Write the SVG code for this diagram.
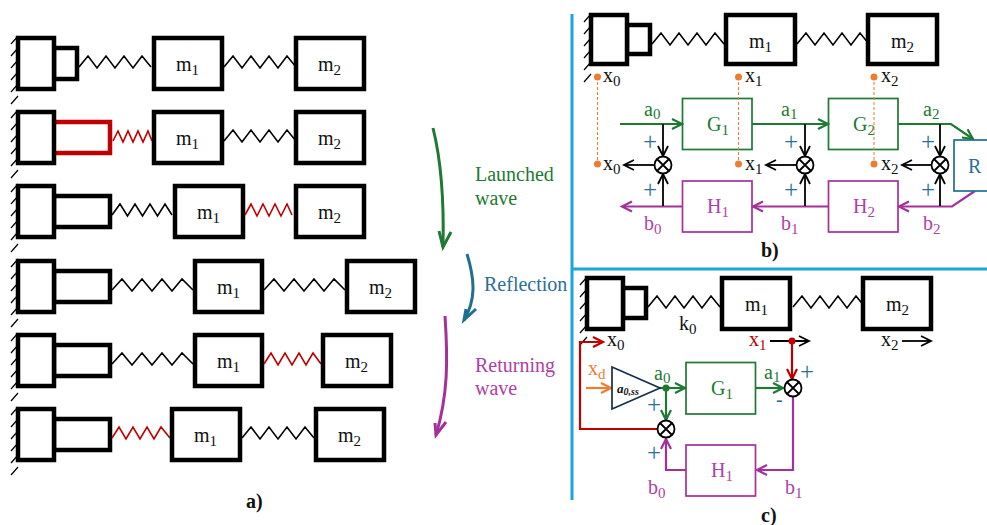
<svg xmlns="http://www.w3.org/2000/svg" width="987" height="525" viewBox="0 0 987 525">
<style>
text{font-family:"Liberation Serif","Times New Roman",serif;font-size:20px;fill:#111}
tspan.s{font-size:15px}
text.plus{font-size:25px}
text.bold{font-weight:bold;font-size:20px}
.b{fill:#fff;stroke:#000;stroke-width:4.5}
.sp{fill:none;stroke:#000;stroke-width:1.6;stroke-linejoin:miter}
.red{stroke:#c00000}
.h{fill:none;stroke:#000;stroke-width:1.2}
.g{fill:none;stroke:#1e7a32;stroke-width:2.2}
.p{fill:none;stroke:#a5309a;stroke-width:2.2}
.k{fill:none;stroke:#000;stroke-width:1.8}
.r{fill:none;stroke:#c00000;stroke-width:2.2}
.o{fill:none;stroke:#ed7d31;stroke-width:2.2}
.gt{fill:#1e7a32}.pt{fill:#b040a5}.bt{fill:#2a6f97}.ot{fill:#ed7d31}.rt{fill:#c00000}
.sum{fill:#fff;stroke:#000;stroke-width:1.8}
.dash{fill:none;stroke:#ed7d31;stroke-width:1;stroke-dasharray:3 2}
.ln{fill:none;stroke:#1aa5dc;stroke-width:3}
</style>
<defs>
<path id="hatch" class="h" d="M11 8l7-8M11 20l7-8M11 32l7-8M11 44l7-8M11 56l7-8M11 68l7-8"/>
<g id="cross"><circle class="sum" r="8.500"/><path class="k" d="M-6-6L6 6M-6 6L6-6"/></g>
<marker id="ak" markerUnits="userSpaceOnUse" markerWidth="14" markerHeight="14" refX="11" refY="6" orient="auto"><path d="M1 1L11 6L1 11" fill="none" stroke="#000" stroke-width="1.800"/></marker>
<marker id="ag" markerUnits="userSpaceOnUse" markerWidth="14" markerHeight="14" refX="11" refY="6" orient="auto"><path d="M1 1L11 6L1 11" fill="none" stroke="#1e7a32" stroke-width="2.200"/></marker>
<marker id="ap" markerUnits="userSpaceOnUse" markerWidth="14" markerHeight="14" refX="11" refY="6" orient="auto"><path d="M1 1L11 6L1 11" fill="none" stroke="#a5309a" stroke-width="2.200"/></marker>
<marker id="ar" markerUnits="userSpaceOnUse" markerWidth="14" markerHeight="14" refX="11" refY="6" orient="auto"><path d="M1 1L11 6L1 11" fill="none" stroke="#c00000" stroke-width="2.200"/></marker>
<marker id="ao" markerUnits="userSpaceOnUse" markerWidth="14" markerHeight="14" refX="11" refY="6" orient="auto"><path d="M1 1L11 6L1 11" fill="none" stroke="#ed7d31" stroke-width="2.200"/></marker>
</defs>

<g id="panel-lines"><path class="ln" d="M572 14V500M572 269H987"/></g>

<g id="a-row1">
<use href="#hatch" y="36"/><rect class="b" x="54" y="48" width="23" height="31"/><rect class="b" x="18" y="38" width="36" height="51"/>
<path class="sp" d="M79 67l9-11l9 12l9-12l9 12l9-12l9 12l9-12l9 11"/>
<rect class="b" x="154" y="38" width="68" height="51"/><text x="176" y="71">m<tspan class="s" dy="4">1</tspan></text>
<path class="sp" d="M224 67l9-11l9 12l9-12l9 12l9-12l9 12l9-12l9 11"/>
<rect class="b" x="296" y="38" width="68" height="51"/><text x="318" y="71">m<tspan class="s" dy="4">2</tspan></text>
</g>
<g id="a-row2">
<use href="#hatch" y="110"/><rect class="b" style="stroke:#c00000" x="50" y="122" width="60" height="31"/><rect class="b" x="18" y="112" width="36" height="51"/>
<path class="sp red" d="M113 141l5-10l5 11l5-11l5 11l5-11l5 11l5-11l4 10"/>
<rect class="b" x="154" y="112" width="68" height="51"/><text x="176" y="145">m<tspan class="s" dy="4">1</tspan></text>
<path class="sp" d="M224 141l9-11l9 12l9-12l9 12l9-12l9 12l9-12l9 11"/>
<rect class="b" x="296" y="112" width="68" height="51"/><text x="318" y="145">m<tspan class="s" dy="4">2</tspan></text>
</g>
<g id="a-row3">
<use href="#hatch" y="184"/><rect class="b" x="54" y="196" width="56" height="31"/><rect class="b" x="18" y="186" width="36" height="51"/>
<path class="sp" d="M112 215l8-11l7.500 12l7.500-12l7.500 12l7.500-12l7.500 12l7.500-12l7 11"/>
<rect class="b" x="175" y="186" width="68" height="51"/><text x="197" y="219">m<tspan class="s" dy="4">1</tspan></text>
<path class="sp red" d="M245 215l6-11l6 12l6-12l6 12l6-12l6 12l6-12l5 11"/>
<rect class="b" x="296" y="186" width="68" height="51"/><text x="318" y="219">m<tspan class="s" dy="4">2</tspan></text>
</g>
<g id="a-row4">
<use href="#hatch" y="259"/><rect class="b" x="54" y="271" width="56" height="31"/><rect class="b" x="18" y="261" width="36" height="51"/>
<path class="sp" d="M112 290l10-11l10 12l10-12l10 12l10-12l10 12l10-12l11 11"/>
<rect class="b" x="195" y="261" width="67" height="51"/><text x="217" y="294">m<tspan class="s" dy="4">1</tspan></text>
<path class="sp" d="M264 290l10-11l10 12l10-12l10 12l10-12l10 12l10-12l11 11"/>
<rect class="b" x="347" y="261" width="68" height="51"/><text x="369" y="294">m<tspan class="s" dy="4">2</tspan></text>
</g>
<g id="a-row5">
<use href="#hatch" y="333"/><rect class="b" x="54" y="345" width="56" height="31"/><rect class="b" x="18" y="335" width="36" height="51"/>
<path class="sp" d="M112 364l10-11l10 12l10-12l10 12l10-12l10 12l10-12l11 11"/>
<rect class="b" x="195" y="335" width="67" height="51"/><text x="217" y="368">m<tspan class="s" dy="4">1</tspan></text>
<path class="sp red" d="M264 364l7-11l7 12l7-12l7 12l7-12l7 12l7-12l8 11"/>
<rect class="b" x="323" y="335" width="68" height="51"/><text x="345" y="368">m<tspan class="s" dy="4">2</tspan></text>
</g>
<g id="a-row6">
<use href="#hatch" y="407"/><rect class="b" x="54" y="419" width="56" height="31"/><rect class="b" x="18" y="409" width="36" height="51"/>
<path class="sp red" d="M112 438l7-11l7 12l7-12l7 12l7-12l7 12l7-12l9 11"/>
<rect class="b" x="172" y="409" width="68" height="51"/><text x="194" y="442">m<tspan class="s" dy="4">1</tspan></text>
<path class="sp" d="M242 438l9-11l9 12l9-12l9 12l9-12l9 12l9-12l9 11"/>
<rect class="b" x="316" y="409" width="68" height="51"/><text x="338" y="442">m<tspan class="s" dy="4">2</tspan></text>
</g>
<text class="bold" x="246" y="508">a)</text>

<g id="wave-arrows">
<path d="M433 128C441 160 444 205 443 247" fill="none" stroke="#1e7a32" stroke-width="3"/><path d="M439 231L443 247L451 232" fill="none" stroke="#1e7a32" stroke-width="3"/>
<path d="M467 254C475 280 476 300 464 320" fill="none" stroke="#1f6f8f" stroke-width="3"/><path d="M466 309L464 320L476 309" fill="none" stroke="#1f6f8f" stroke-width="3"/>
<path d="M445 316C448 360 448 395 436 435" fill="none" stroke="#a5309a" stroke-width="3"/><path d="M435 423L436 435L446 422" fill="none" stroke="#a5309a" stroke-width="3"/>
<text class="gt" x="475" y="181">Launched</text><text class="gt" x="475" y="205">wave</text>
<text class="bt" x="484" y="291">Reflection</text>
<text class="pt" x="475" y="372">Returning</text><text class="pt" x="475" y="395">wave</text>
</g>

<g id="b-mech">
<use href="#hatch" x="573" y="14"/><rect class="b" x="627" y="25" width="23" height="29"/><rect class="b" x="591" y="15" width="36" height="49"/>
<path class="sp" d="M652 44l9-11l9 12l9-12l9 12l9-12l9 12l9-12l9 11"/>
<rect class="b" x="726" y="15" width="69" height="49"/><text x="749" y="48">m<tspan class="s" dy="4">1</tspan></text>
<path class="sp" d="M797 44l9-11l9 12l9-12l9 12l9-12l9 12l9-12l9 11"/>
<rect class="b" x="868" y="15" width="69" height="49"/><text x="891" y="48">m<tspan class="s" dy="4">2</tspan></text>
</g>
<g id="connectors-b">
<path class="g" marker-end="url(#ag)" d="M620 124H682"/>
<path class="g" marker-end="url(#ag)" d="M752 124H828"/>
<path class="g" marker-end="url(#ag)" d="M898 124H951L973 139"/>
<path class="p" marker-end="url(#ap)" d="M682 206.500H622"/>
<path class="p" marker-end="url(#ap)" d="M828 206.500H753"/>
<path class="p" marker-end="url(#ap)" d="M975 191L952 206.500H899"/>
<path class="k" marker-end="url(#ak)" d="M663 124V156"/><path class="k" marker-end="url(#ak)" d="M663 206V174"/><path class="k" marker-end="url(#ak)" d="M654 165H624"/>
<path class="k" marker-end="url(#ak)" d="M805 124V156"/><path class="k" marker-end="url(#ak)" d="M805 206V174"/><path class="k" marker-end="url(#ak)" d="M796 165H766"/>
<path class="k" marker-end="url(#ak)" d="M940 124V156"/><path class="k" marker-end="url(#ak)" d="M940 206V174"/><path class="k" marker-end="url(#ak)" d="M931 165H902"/>
</g>
<g id="G1b"><rect class="g" style="stroke-width:1.700" x="682.500" y="98.500" width="69.500" height="51"/><text class="gt" x="707" y="131">G<tspan class="s" dy="4">1</tspan></text></g>
<g id="G2b"><rect class="g" style="stroke-width:1.700" x="828.500" y="98.500" width="69.500" height="51"/><text class="gt" x="853" y="131">G<tspan class="s" dy="4">2</tspan></text></g>
<g id="H1b"><rect class="p" style="stroke-width:1.700" x="682.500" y="181" width="69.500" height="51"/><text class="pt" x="707" y="213">H<tspan class="s" dy="4">1</tspan></text></g>
<g id="H2b"><rect class="p" style="stroke-width:1.700" x="828.500" y="181" width="69.500" height="51"/><text class="pt" x="853" y="213">H<tspan class="s" dy="4">2</tspan></text></g>
<g id="Rb"><rect x="954" y="140" width="40" height="51" fill="#fff" stroke="#1f6f8f" stroke-width="1.700"/><text class="bt" x="968" y="173">R</text></g>
<path class="dash" d="M597.500 77V164M738.500 77V164M874 77V164"/>
<g fill="#ed7d31"><circle cx="597.500" cy="77" r="3.500"/><circle cx="738.500" cy="77" r="3.500"/><circle cx="874" cy="77" r="3.500"/><circle cx="597.500" cy="164" r="3.500"/><circle cx="738.500" cy="164" r="3.500"/><circle cx="874" cy="164" r="3.500"/></g>
<use href="#cross" x="663" y="165"/><use href="#cross" x="805" y="165"/><use href="#cross" x="940" y="165"/>
<g id="b-labels">
<text x="603" y="82">x<tspan class="s" dy="4">0</tspan></text><text x="745" y="82">x<tspan class="s" dy="4">1</tspan></text><text x="881" y="82">x<tspan class="s" dy="4">2</tspan></text>
<text x="603" y="170">x<tspan class="s" dy="4">0</tspan></text><text x="745" y="170">x<tspan class="s" dy="4">1</tspan></text><text x="881" y="170">x<tspan class="s" dy="4">2</tspan></text>
<text class="gt" x="644" y="116">a<tspan class="s" dy="3">0</tspan></text><text class="gt" x="781" y="116">a<tspan class="s" dy="3">1</tspan></text><text class="gt" x="923" y="116">a<tspan class="s" dy="3">2</tspan></text>
<text class="pt" x="644" y="230">b<tspan class="s" dy="4">0</tspan></text><text class="pt" x="781" y="230">b<tspan class="s" dy="4">1</tspan></text><text class="pt" x="923" y="230">b<tspan class="s" dy="4">2</tspan></text>
<text class="bt plus" x="643" y="150">+</text><text class="bt plus" x="643" y="198">+</text><text class="bt plus" x="784" y="150">+</text><text class="bt plus" x="784" y="198">+</text><text class="bt plus" x="921" y="150">+</text><text class="bt plus" x="921" y="198">+</text>
<text class="bold" x="761" y="257">b)</text>
</g>

<g id="c-mech">
<use href="#hatch" x="569" y="277"/><rect class="b" x="623" y="288" width="23" height="30"/><rect class="b" x="587" y="278" width="36" height="51"/>
<path class="sp" d="M648 307l9-11l9 12l9-12l9 12l9-12l9 12l9-12l9 11"/>
<rect class="b" x="722" y="278" width="68" height="51"/><text x="745" y="311">m<tspan class="s" dy="4">1</tspan></text>
<path class="sp" d="M793 307l9-11l9 12l9-12l9 12l9-12l9 12l9-12l9 11"/>
<rect class="b" x="863" y="278" width="68" height="51"/><text x="886" y="311">m<tspan class="s" dy="4">2</tspan></text>
</g>
<g id="connectors-c">
<path class="r" marker-end="url(#ar)" d="M658 429H580V342H603"/>
<path class="o" marker-end="url(#ao)" d="M586 388H611"/>
<path class="g" marker-end="url(#ag)" d="M660 388H685"/>
<path class="g" marker-end="url(#ag)" d="M666 388V420"/>
<path class="g" marker-end="url(#ag)" d="M755 388H783"/>
<path class="p" marker-end="url(#ap)" d="M686 470H666V439"/>
<path class="p" marker-end="url(#ap)" d="M793 397V470H757"/>
<path class="k" marker-end="url(#ak)" d="M770 341H809"/>
<path class="k" marker-end="url(#ak)" d="M902 341H931"/>
<path class="r" marker-end="url(#ar)" d="M792 341V379"/>
<circle cx="792" cy="341" r="3.500" fill="#c00000"/><circle cx="666" cy="388" r="3.500" fill="#1e7a32"/>
</g>
<g id="amp"><path d="M612 367L660 388L612 409Z" fill="#fff" stroke="#14304a" stroke-width="1.700"/><text x="617" y="393" style="font-size:13px;font-weight:bold;font-style:italic">a<tspan style="font-size:10px" dy="2">0,ss</tspan></text></g>
<g id="G1c"><rect class="g" style="stroke-width:1.700" x="686" y="362.500" width="69.500" height="51.500"/><text class="gt" x="711" y="395">G<tspan class="s" dy="4">1</tspan></text></g>
<g id="H1c"><rect class="p" style="stroke-width:1.700" x="686" y="445" width="69.500" height="51"/><text class="pt" x="711" y="477">H<tspan class="s" dy="4">1</tspan></text></g>
<use href="#cross" x="666" y="429"/><use href="#cross" x="793" y="388"/>
<g id="c-labels">
<text x="679" y="330">k<tspan class="s" dy="4">0</tspan></text>
<text x="607" y="346">x<tspan class="s" dy="4">0</tspan></text>
<text class="rt" x="749" y="346">x<tspan class="s" dy="4">1</tspan></text>
<text x="881" y="346">x<tspan class="s" dy="4">2</tspan></text>
<text class="ot" x="588" y="375">x<tspan class="s" dy="4">d</tspan></text>
<text class="gt" x="654" y="380">a<tspan class="s" dy="3">0</tspan></text>
<text class="gt" x="764" y="379">a<tspan class="s" dy="3">1</tspan></text>
<text class="pt" x="648" y="494">b<tspan class="s" dy="4">0</tspan></text>
<text class="pt" x="785" y="494">b<tspan class="s" dy="4">1</tspan></text>
<text class="bt plus" x="647" y="413">+</text><text class="bt plus" x="647" y="461">+</text><text class="bt plus" x="800" y="380">+</text><text class="bt" x="776" y="406">-</text>
<text class="bold" x="761" y="522">c)</text>
</g>
</svg>
